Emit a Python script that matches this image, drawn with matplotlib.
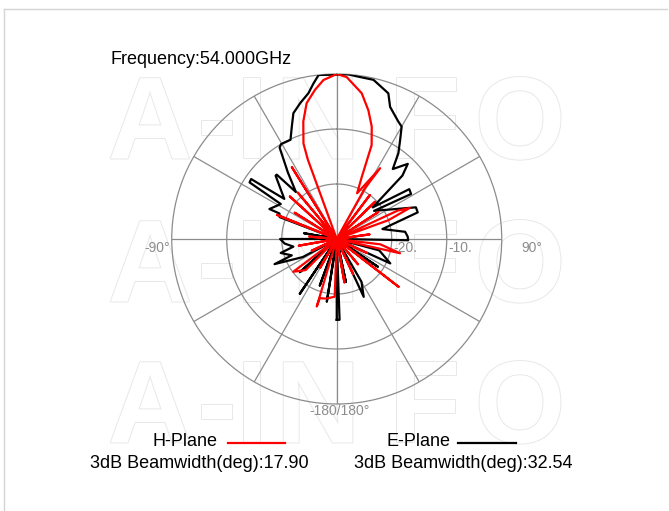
import numpy as np
import matplotlib
matplotlib.use("Agg")
import matplotlib.pyplot as plt
from matplotlib import patheffects

plt.rcParams['font.family'] = ['Liberation Sans', 'DejaVu Sans']

# E-plane (black) pattern, path order: angle in deg, gain in dB (normalised)
e_ang = [-180, -176, -171, -166, -160, -154, -146, -141, -132, -126, -118, -112, -110,
         -104, -100, -95, -90, -87, -80, -75, -69, -66, -66, -58, -57, -55, -52.6, -44,
         -43, -41, -36.3, -32, -30.4, -25, -21.8, -19, -15, -11, -8.5, -6.3, 4, 7, 13,
         19.5, 22, 27.7, 30, 32.6, 35.7, 38.7, 43.4, 46, 48.7, 55.5, 58.8, 53, 68.2,
         71.8, 77.7, 84, 88, 91, 94, 105, 114.5, 118, 124, 128, 140, 150, 155, 158, 168,
         172, 178, 180]
e_db = [-15.3, -30, -18.5, -30, -21, -30, -18, -30, -21, -30, -23, -17.8, -21.3,
        -19.5, -22, -20.5, -19.7, -30, -24, -30, -18.9, -18.6, -16.6, -18, -11.1, -11,
        -18, -14, -14, -18.7, -15, -10.4, -10, -10.1, -8, -5.8, -4.4, -3, -1.4, 0, 0,
        -0.2, -0.3, -1.9, -4.1, -5.9, -6.4, -8.6, -10.8, -13.7, -11.2, -13.4, -21.3,
        -14, -14.2, -21.5, -14.5, -14.5, -21.5, -17.5, -17.1, -17, -30, -22, -19.3,
        -30, -21, -30, -30, -21, -18.4, -30, -22, -30, -15.3, -15.3]

# H-plane (red) pattern
h_ang = [-180, -178, -170, -164, -163.5, -160, -150, -145, -135, -127, -124, -115,
         -110, -100, -95, -85, -78, -68, -65, -58, -55, -52, -47.8, -45, -40, -36, -32,
         -29, -21, -20, -19.2, -15.9, -12.5, -8.3, -4.8, 0, 3.5, 9.7, 13.8, 17.3, 20.4,
         22, 24, 31.5, 29, 33, 37, 40, 45.8, 50, 57, 62, 65, 67, 70, 75, 82, 88, 97,
         102.7, 105, 115, 120, 127.7, 130, 140, 146, 155, 160, 170, 176, 180]
h_db = [-30, -19.5, -19, -18.8, -17.2, -30, -24, -30, -22, -20.1, -30, -25, -30, -23,
        -30, -25, -30, -18.3, -30, -21, -30, -30, -18.5, -30, -19, -30, -14.6, -30, -30,
        -14.6, -11.6, -7.8, -4.7, -2.6, -1, 0, -0.5, -3.1, -5.9, -8.6, -11.8, -17.9,
        -20.9, -14.9, -19.5, -30, -20, -30, -20.3, -30, -21, -30, -17.8, -15.6, -20, -30,
        -24, -30, -22, -18.2, -30, -24, -30, -15.8, -30, -24, -30, -23, -30, -22, -30, -30]

ring_db = [-30, -20, -10]
ring_labels = ["-30.", "-20.", "-10."]

W, H = 669, 511
fig = plt.figure(figsize=(W / 100, H / 100), dpi=100)

def fx(px):
    return px / W

def fy(py):
    return 1 - py / H

# frame lines at top/left
fig.add_artist(plt.Line2D([fx(4), fx(4)], [0, fy(9)], color="#d4d4d4", lw=1))
fig.add_artist(plt.Line2D([fx(4), fx(667)], [fy(9), fy(9)], color="#d4d4d4", lw=1))

# watermark, drawn behind everything
wm_letters = ["A", "-", "I", "N", "F", "O"]
wm_x = [150, 217, 252, 318, 425, 520]
for yc in [128, 271, 412]:
    for ch, xc in zip(wm_letters, wm_x):
        fig.text(fx(xc), fy(yc), ch, ha="center", va="center",
                 fontsize=84, fontweight="bold", color="white", zorder=-5,
                 path_effects=[patheffects.withStroke(linewidth=1.4, foreground="#e8e8e8")])

ax = fig.add_axes([0.2567, 0.2094, 0.4933, 0.6458], projection="polar")
ax.patch.set_alpha(0)
ax.set_theta_zero_location("N")
ax.set_theta_direction(-1)
ax.set_rlim(-30, 0)
ax.set_xticks([])
ax.set_yticks([])
ax.grid(False)
ax.spines["polar"].set_color("#8c8c8c")
ax.spines["polar"].set_linewidth(0.9)

th = np.linspace(0, 2 * np.pi, 400)
for r in [-20, -10]:
    ax.plot(th, np.full_like(th, r), color="#8c8c8c", lw=0.9, zorder=1)
for a in range(0, 360, 30):
    ax.plot([np.deg2rad(a)] * 2, [-30, 0], color="#8c8c8c", lw=0.9, zorder=1)

ax.plot(np.deg2rad(e_ang), np.clip(e_db, -30, 0), color="black", lw=1.6, zorder=3)
ax.plot(np.deg2rad(h_ang), np.clip(h_db, -30, 0), color="#ff0000", lw=1.6, zorder=4)

lab = dict(color="#8c8c8c", fontsize=10, va="center")
for r, t in zip(ring_db[1:], ring_labels[1:]):
    x = (r + 30) / 30 * 165
    fig.text(fx(336.7 + x + 2), fy(248), t, ha="left", **lab)
fig.text(fx(170), fy(248), "-90°", ha="right", **lab)
fig.text(fx(521), fy(248), "90°", ha="left", **lab)
fig.text(fx(340), fy(411), "-180/180°", ha="center", **lab)

fig.text(fx(110), fy(60), "Frequency:54.000GHz", fontsize=13,
         ha="left", va="center", color="black")

fig.text(fx(218), fy(441), "H-Plane", fontsize=13, ha="right", va="center")
fig.add_artist(plt.Line2D([fx(228), fx(285)], [fy(443)] * 2, color="#ff0000", lw=1.6))
fig.text(fx(450), fy(441), "E-Plane", fontsize=13, ha="right", va="center")
fig.add_artist(plt.Line2D([fx(458), fx(516)], [fy(443)] * 2, color="black", lw=1.6))
fig.text(fx(199), fy(464), "3dB Beamwidth(deg):17.90", fontsize=13, ha="center", va="center")
fig.text(fx(463), fy(464), "3dB Beamwidth(deg):32.54", fontsize=13, ha="center", va="center")

fig.savefig("out.png", dpi=100)
